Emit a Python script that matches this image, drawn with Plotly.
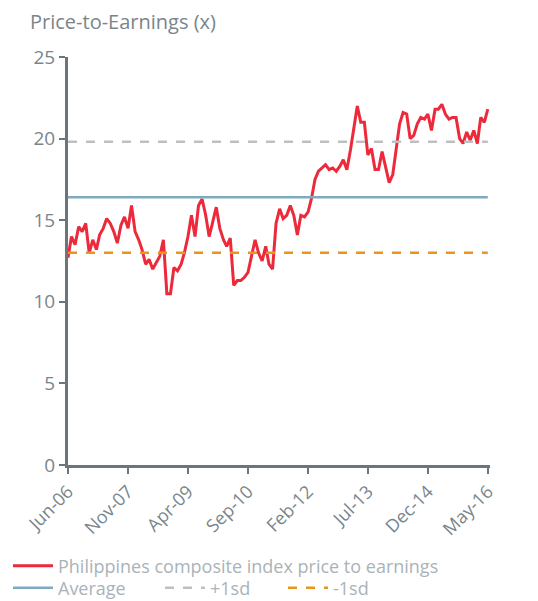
import pandas as pd
import plotly.graph_objects as go

pe_values = [
    12.7, 14.0, 13.5, 14.6, 14.3, 14.8, 13.0, 13.8, 13.2, 14.1,
    14.5, 15.1, 14.8, 14.3, 13.6, 14.7, 15.2, 14.5, 15.9, 14.3,
    13.8, 13.2, 12.3, 12.6, 12.0, 12.4, 12.8, 13.8, 10.5, 10.5,
    12.1, 11.9, 12.3, 13.0, 14.0, 15.3, 14.0, 15.9, 16.3, 15.3,
    14.0, 14.9, 15.8, 14.5, 13.8, 13.4, 13.9, 11.0, 11.3, 11.3,
    11.5, 11.8, 12.8, 13.8, 13.0, 12.5, 13.4, 12.3, 12.0, 14.8,
    15.7, 15.1, 15.3, 15.9, 15.3, 14.1, 15.3, 15.2, 15.5, 16.3,
    17.5, 18.0, 18.2, 18.4, 18.1, 18.2, 18.0, 18.3, 18.7, 18.1,
    19.3, 20.5, 22.0, 21.0, 21.0, 19.0, 19.4, 18.1, 18.1, 19.2,
    18.2, 17.3, 17.8, 19.2, 20.9, 21.6, 21.5, 20.0, 20.2, 20.9,
    21.3, 21.2, 21.5, 20.5, 21.8, 21.8, 22.1, 21.5, 21.2, 21.3,
    21.3, 20.0, 19.7, 20.4, 19.9, 20.5, 19.7, 21.3, 21.0, 21.8,
]
dates = pd.date_range("2006-06-01", periods=len(pe_values), freq="MS")
average_value = 16.4
plus_1sd_value = 19.8
minus_1sd_value = 13.0
tick_dates = ["2006-06-01", "2007-11-01", "2009-04-01", "2010-09-01",
              "2012-02-01", "2013-07-01", "2014-12-01", "2016-05-01"]
tick_labels = ["Jun-06", "Nov-07", "Apr-09", "Sep-10", "Feb-12", "Jul-13", "Dec-14", "May-16"]

n = len(pe_values)
fig = go.Figure()
fig.add_trace(go.Scatter(x=dates, y=pe_values, mode="lines",
                         name="Philippines composite index price to earnings",
                         line=dict(color="#ec2a3b", width=3), legend="legend"))
fig.add_trace(go.Scatter(x=dates, y=[average_value] * n, mode="lines", name="Average",
                         line=dict(color="#7ea9bf", width=2.5), legend="legend2"))
fig.add_trace(go.Scatter(x=dates, y=[plus_1sd_value] * n, mode="lines", name="+1sd",
                         line=dict(color="#bfbfbf", width=2.5, dash="dash"), legend="legend3"))
fig.add_trace(go.Scatter(x=dates, y=[minus_1sd_value] * n, mode="lines", name="-1sd",
                         line=dict(color="#e8961e", width=2.5, dash="dash"), legend="legend4"))

W, H = 530, 593  # page body has an 8px margin
axis_color = "#6b757b"
legend_common = dict(orientation="h", xref="container", yref="container",
                     xanchor="left", yanchor="middle",
                     font=dict(size=18, color="#aab3b8"),
                     itemwidth=40, bgcolor="rgba(0,0,0,0)")
row1_y = 1 - (566 - 8) / H
row2_y = 1 - (588 - 8) / H
fig.update_layout(
    width=W, height=H,
    margin=dict(l=60, r=48, t=49, b=136, autoexpand=False),
    paper_bgcolor="white", plot_bgcolor="white",
    font=dict(family="Open Sans", color="#7a858b"),
    showlegend=True,
    legend=dict(x=-0.02, y=row1_y, **legend_common),
    legend2=dict(x=-0.02, y=row2_y, **legend_common),
    legend3=dict(x=(170 - 18) / W, y=row2_y, **legend_common),
    legend4=dict(x=(293 - 18) / W, y=row2_y, **legend_common),
    annotations=[dict(text="Price-to-Earnings (x)", xref="paper", yref="paper",
                      x=-0.095, y=1.05, xanchor="left", yanchor="bottom",
                      showarrow=False, font=dict(size=20, color="#7a858b"))],
)
fig.update_xaxes(
    range=[pd.Timestamp("2006-06-01"), pd.Timestamp("2016-05-20")],
    tickvals=pd.to_datetime(tick_dates), ticktext=tick_labels, tickangle=-45,
    showgrid=False, zeroline=False, showline=True, linecolor=axis_color, linewidth=3,
    ticks="outside", ticklen=6, tickwidth=2, tickcolor=axis_color,
    tickfont=dict(size=18, color="#7a858b"),
)
fig.update_yaxes(
    range=[0, 25], tickvals=[0, 5, 10, 15, 20, 25],
    showgrid=False, zeroline=False, showline=True, linecolor=axis_color, linewidth=3,
    ticks="outside", ticklen=6, tickwidth=2, tickcolor=axis_color,
    tickfont=dict(size=19, color="#7a858b"),
)
fig.write_html("out.html")
